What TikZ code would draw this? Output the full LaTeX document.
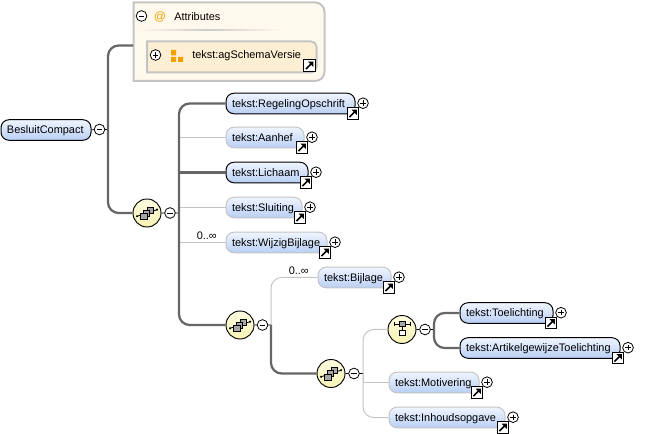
\documentclass[tikz,border=0pt]{standalone}
\usepackage{fontspec}
\setmainfont{Liberation Sans}
\usetikzlibrary{calc}
\definecolor{conn}{HTML}{666666}
\definecolor{lite}{HTML}{C4C4C4}
\definecolor{orng}{HTML}{F5A000}
\definecolor{boxtop}{HTML}{F0F5FF}
\definecolor{boxbot}{HTML}{B8CFF4}
\definecolor{cirtop}{HTML}{FDFCE0}
\definecolor{cirbot}{HTML}{F7F2B4}
\definecolor{attrbg}{HTML}{FFF8EC}
\definecolor{attrin}{HTML}{FDEFD4}
\tikzset{
  base/.style={rounded corners=6pt,top color=boxtop,bottom color=boxbot,inner ysep=0pt,inner xsep=4.5pt,align=left,text height=6.8pt,text depth=1pt,font=\fontsize{8.2}{10}\selectfont},
  req/.style={base,draw=black,line width=.75pt},
  opt/.style={base,draw=lite,line width=.75pt},
  pm/.style={circle,draw=black,line width=.6pt,fill=white,minimum size=8pt,inner sep=0pt},
  comp/.style={circle,draw=black,line width=.7pt,top color=cirtop,bottom color=cirbot,minimum size=21pt,inner sep=0pt},
  thickc/.style={draw=conn,line width=1.7pt,rounded corners=8pt},
  thinc/.style={draw=lite,line width=.75pt,rounded corners=8pt},
  stub/.style={draw=black,line width=.6pt},
  occ/.style={font=\fontsize{8.2}{10}\selectfont,inner sep=0pt},
  lnk/.style={draw=black,line width=.75pt,fill=white,minimum size=8.5pt,inner sep=0pt}
}
\newcommand{\plusmark}[1]{\draw[line width=.55pt] ($(#1)+(-2.7,0)$)--($(#1)+(2.7,0)$) ($(#1)+(0,-2.7)$)--($(#1)+(0,2.7)$);}
\newcommand{\minusmark}[1]{\draw[line width=.55pt] ($(#1)+(-2.7,0)$)--($(#1)+(2.7,0)$);}
\newcommand{\linkmark}[2]{%
  \node[lnk] at (#1,#2) {};
  \fill[black] (#1+3.8,#2-3.8)--(#1-1.5,#2-3.8)--(#1+3.8,#2+1.5)--cycle;
  \draw[black,line width=1.3pt] (#1-3.6,#2+3.6)--(#1+1.5,#2-1.5);
  }
% id, x1, x2, cy, text, style
\newcommand{\elem}[6]{%
  \node[#6,minimum width={(#3-#2)*0.75pt},text width={(#3-#2)*0.75pt-9pt},minimum height=15.4pt] (#1) at ({(#2+#3)/2},#4) {#5};
  \linkmark{#3-2}{#4+10}
  \node[pm] (#1p) at (#3+8,#4-.3) {};
  \plusmark{#1p}
}
\newcommand{\seqicon}[2]{%
  \begin{scope}[shift={(#1,#2)}]
  \draw[line width=.6pt] (-10,3.3)--(10,-3.3);
  \fill (-10,3.3) circle (.9pt) (10,-3.3) circle (.9pt);
  \draw[fill=gray!70,line width=.55pt] (0,-6) rectangle (6,0);
  \draw[fill=gray!70,line width=.55pt] (-3.5,-3) rectangle (2.5,3);
  \draw[fill=gray!70,line width=.55pt] (-7,.5) rectangle (0,6.5);
  \end{scope}}
\newcommand{\choiceicon}[2]{%
  \begin{scope}[shift={(#1,#2)}]
  \draw[line width=.6pt] (-8,-5.3)--(8,-5.3) (-8,-7.3)--(-8,-3.3) (8,-7.3)--(8,-3.3) (0,-3)--(0,1);
  \draw[fill=gray!70,line width=.55pt] (-3,-8.3) rectangle (3,-2.7);
  \draw[fill=white,line width=.55pt] (-3,1) rectangle (3,6.3);
  \end{scope}}
\begin{document}
\begin{tikzpicture}[x=0.75pt,y=-0.75pt]
\useasboundingbox (0,0) rectangle (653,434);
% attributes
\draw[lite,line width=1.5pt,fill=attrbg] (133.5,81)--(133.5,2.5)[rounded corners=7pt]--(324.5,2.5)--(324.5,81)[sharp corners]--(133.5,81)--cycle;
\coordinate (attrpt) at (133,45.5);
\shade[left color=attrbg,right color=attrbg,middle color=gray!40] (138,29.5) rectangle (280,30.8);
\node[pm] (attm) at (141.5,16) {}; \minusmark{attm}
\node[text=orng,font=\fontsize{9}{10}\selectfont,inner sep=0pt] (atsign) at (160,16.5) {@};
\node[occ,anchor=west] (attlabel) at (174,16.5) {Attributes};
\draw[lite,line width=1.5pt,fill=attrin] (147,72.5)--(147,41.5)[rounded corners=4pt]--(316.5,41.5)--(316.5,72.5)[sharp corners]--(147,72.5)--cycle;
\node[occ,anchor=west] (agtxt) at (192,55.5) {tekst:agSchemaVersie};
\fill[orng] (171,50) rectangle (176,55.5) (171,57) rectangle (176,62) (178,57) rectangle (183,62);
\node[pm] (agp) at (155.5,55) {}; \plusmark{agp}
\linkmark{309.5}{65.5}
% root
\node[base,draw=black,line width=.75pt,minimum width=67.5pt,text width=58.5pt,minimum height=15.4pt] (root) at (46,130) {BesluitCompact};
\node[pm] (rootm) at (99.5,129.5) {}; \minusmark{rootm}
\coordinate (j1) at (108,129.5);
% compositors
\node[comp] (seq1) at (147,213) {}; \seqicon{147}{213}
\node[pm] (seq1m) at (170,213) {}; \minusmark{seq1m}
\coordinate (j2) at (179,213);
\node[comp] (seq2) at (240,325) {}; \seqicon{240}{325}
\node[pm] (seq2m) at (262.5,325) {}; \minusmark{seq2m}
\coordinate (j3) at (271,325);
\node[comp] (seq3) at (331,373.5) {}; \seqicon{331}{373.5}
\node[pm] (seq3m) at (354,373.5) {}; \minusmark{seq3m}
\coordinate (j4) at (363,373.5);
\node[comp] (cho) at (402,329.5) {}; \choiceicon{402}{329.5}
\node[pm] (chom) at (425,329.5) {}; \minusmark{chom}
\coordinate (j5) at (434,329.5);
% elements
\elem{e1}{226}{355}{103.5}{tekst:RegelingOpschrift}{req}
\elem{e2}{226}{304}{137.5}{tekst:Aanhef}{opt}
\elem{e3}{226}{308}{172.5}{tekst:Lichaam}{req}
\elem{e4}{226}{302}{207.5}{tekst:Sluiting}{opt}
\elem{e5}{226}{327}{242.5}{tekst:WijzigBijlage}{opt}
\elem{e6}{318}{391}{277.5}{tekst:Bijlage}{opt}
\elem{e7}{460}{553}{313}{tekst:Toelichting}{req}
\elem{e8}{460}{620}{348}{tekst:ArtikelgewijzeToelichting}{req}
\elem{e9}{389}{479}{382.5}{tekst:Motivering}{opt}
\elem{e10}{389}{505}{417.5}{tekst:Inhoudsopgave}{opt}
% connectors
\draw[stub] (root.east)--(rootm.west) (rootm.east)--(j1) (seq1m.east)--(j2) (seq2m.east)--(j3) (seq3m.east)--(j4) (chom.east)--(j5) (seq1.east)--(seq1m.west) (seq2.east)--(seq2m.west) (seq3.east)--(seq3m.west) (cho.east)--(chom.west);
\draw[thinc,sharp corners] (j2)|-(e2.west);
\draw[thinc,sharp corners] (j2)|-(e4.west);
\draw[thinc,sharp corners] (j2)|-(e5.west);
\draw[thinc] (j3)|-(e6.west);
\draw[thinc] (j4)|-(cho.west);
\draw[thinc,sharp corners] (j4)|-(e9.west);
\draw[thinc] (j4)|-(e10.west);
\draw[thickc] (j1)|-(attrpt);
\draw[thickc] (j1)|-(seq1.west);
\draw[thickc] (j2)|-(e1.west);
\draw[thickc,sharp corners] (j2)|-(e3.west);
\draw[thickc] (j2)|-(seq2.west);
\draw[thickc] (j3)|-(seq3.west);
\draw[thickc] (j5)|-(e7.west);
\draw[thickc] (j5)|-(e8.west);
% occurrences
\node[occ,anchor=west] (oc1) at (196.5,236) {0..∞};
\node[occ,anchor=west] (oc2) at (288.5,271) {0..∞};
\end{tikzpicture}
\end{document}
